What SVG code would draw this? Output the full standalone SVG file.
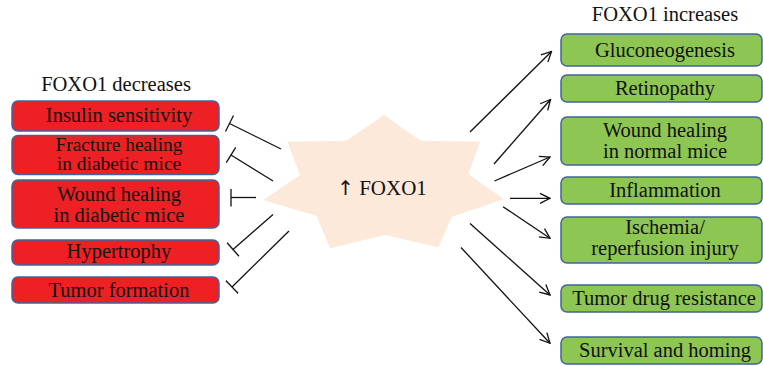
<svg xmlns="http://www.w3.org/2000/svg" width="763" height="366" viewBox="0 0 763 366">
<defs>
<style>
.t{font-family:"Liberation Serif","Times New Roman",serif;font-size:20.5px;fill:#111;text-anchor:middle}
.s{font-size:19.5px}
.red{fill:#ed2024;stroke:#40649a;stroke-width:1.5}
.green{fill:#8dc653;stroke:#40649a;stroke-width:1.5}
.ln{stroke:#111;stroke-width:1.3;fill:none}
</style>
<marker id="arr" viewBox="0 0 12 12" refX="11" refY="6" markerWidth="12" markerHeight="12" markerUnits="userSpaceOnUse" orient="auto">
<path d="M1,1 L11,6 L1,11" fill="none" stroke="#111" stroke-width="1.3"/>
</marker>
<marker id="bar" viewBox="0 0 4 18" refX="2" refY="9" markerWidth="4" markerHeight="18" markerUnits="userSpaceOnUse" orient="auto">
<path d="M2,0 L2,18" stroke="#111" stroke-width="1.3"/>
</marker>
</defs>
<rect width="763" height="366" fill="#fff"/>

<g id="center">
<polygon points="384,115 420.7,140.7 480,141.7 468.3,174 504,199.3 451.7,216.7 438.3,247.3 385,235 330,248.3 316.7,216 263.3,200 300,175 287.3,141.7 346.7,140.7" fill="#fce9da"/>
<text class="t" x="382" y="195" style="font-size:21px"><tspan style="font-family:'DejaVu Sans',sans-serif;font-size:20px">↑</tspan> FOXO1</text>
</g>

<text class="t" x="116" y="91">FOXO1 decreases</text>
<text class="t" x="665" y="21">FOXO1 increases</text>

<g id="left1"><rect class="red" x="12" y="101" width="207" height="30" rx="6"/><text class="t" x="119" y="122">Insulin sensitivity</text></g>
<g id="left2"><rect class="red" x="12" y="135.5" width="207" height="39" rx="6"/><text class="t s" x="119" y="151">Fracture healing</text><text class="t s" x="119" y="170">in diabetic mice</text></g>
<g id="left3"><rect class="red" x="12" y="180" width="207" height="48" rx="6"/><text class="t" x="119" y="201">Wound healing</text><text class="t" x="119" y="222">in diabetic mice</text></g>
<g id="left4"><rect class="red" x="12" y="240" width="207" height="25" rx="6"/><text class="t" x="119" y="258">Hypertrophy</text></g>
<g id="left5"><rect class="red" x="12" y="277" width="207" height="26" rx="6"/><text class="t" x="119" y="297">Tumor formation</text></g>

<g id="right1"><rect class="green" x="561" y="34" width="201" height="32" rx="6"/><text class="t" x="665" y="57">Gluconeogenesis</text></g>
<g id="right2"><rect class="green" x="561" y="75" width="201" height="27" rx="6"/><text class="t" x="665" y="95">Retinopathy</text></g>
<g id="right3"><rect class="green" x="561" y="117" width="201" height="48" rx="6"/><text class="t" x="665" y="137">Wound healing</text><text class="t" x="665" y="158">in normal mice</text></g>
<g id="right4"><rect class="green" x="561" y="177" width="201" height="27" rx="6"/><text class="t" x="665" y="197">Inflammation</text></g>
<g id="right5"><rect class="green" x="561" y="217" width="201" height="46" rx="6"/><text class="t" x="665" y="234">Ischemia/</text><text class="t" x="665" y="255">reperfusion injury</text></g>
<g id="right6"><rect class="green" x="561" y="285" width="201" height="27" rx="6"/><text class="t" x="664" y="305">Tumor drug resistance</text></g>
<g id="right7"><rect class="green" x="561" y="337" width="201" height="27" rx="6"/><text class="t" x="665" y="357">Survival and homing</text></g>

<g id="connectors">
<line class="ln" x1="281" y1="149" x2="229.5" y2="123.5" marker-end="url(#bar)"/>
<line class="ln" x1="273" y1="181" x2="231" y2="155" marker-end="url(#bar)"/>
<line class="ln" x1="256" y1="197.5" x2="231" y2="197.5" marker-end="url(#bar)"/>
<line class="ln" x1="273" y1="214.5" x2="233" y2="249.5" marker-end="url(#bar)"/>
<line class="ln" x1="289" y1="231" x2="232" y2="287" marker-end="url(#bar)"/>

<line class="ln" x1="470" y1="132" x2="551.5" y2="51.5" marker-end="url(#arr)"/>
<line class="ln" x1="494" y1="164" x2="550.5" y2="99.5" marker-end="url(#arr)"/>
<line class="ln" x1="494.5" y1="181" x2="550" y2="157" marker-end="url(#arr)"/>
<line class="ln" x1="510" y1="198.3" x2="550" y2="198.3" marker-end="url(#arr)"/>
<line class="ln" x1="503" y1="206.7" x2="550" y2="238.3" marker-end="url(#arr)"/>
<line class="ln" x1="470" y1="223.5" x2="550" y2="295" marker-end="url(#arr)"/>
<line class="ln" x1="461" y1="247.5" x2="550" y2="343.3" marker-end="url(#arr)"/>
</g>
</svg>
